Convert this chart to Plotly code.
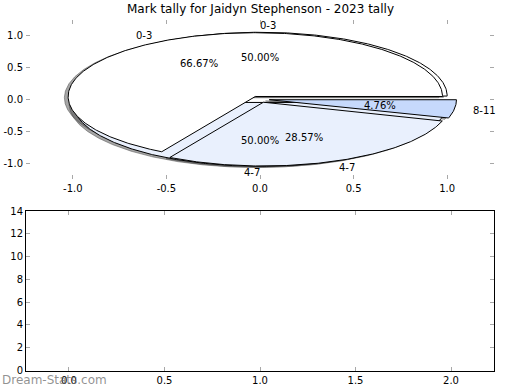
import numpy as np
import plotly.graph_objects as go

# ---------------- data ----------------
title_text = "Mark tally for Jaidyn Stephenson - 2023 tally"
pie_a_labels = ["0-3", "4-7"]            # drawn first (underneath)
pie_a_values = [1, 1]
pie_b_labels = ["0-3", "4-7", "8-11"]    # drawn second (on top)
pie_b_values = [14, 6, 1]
label_colors = {"0-3": "#ffffff", "4-7": "#e9f0fd", "8-11": "#c6d9fc"}
top_ticks = [-1.0, -0.5, 0.0, 0.5, 1.0]
bottom_x_ticks = [0.0, 0.5, 1.0, 1.5, 2.0]
bottom_y_ticks = [0, 2, 4, 6, 8, 10, 12, 14]
watermark = "Dream-Stats.com"

# ---------------- style ----------------
W, H = 520, 390
EXPLODE = 0.05
SHADOW_DX, SHADOW_DY = -0.02, -0.02
FONT = "DejaVu Sans"
TICKCOL = "#a8a8a8"


def make_wedges(labels, values):
    total = float(sum(values))
    out = []
    t = 0.0
    for lab, v in zip(labels, values):
        frac = v / total
        t1, t2 = t, t + frac
        tm = np.pi * (t1 + t2)
        cx, cy = EXPLODE * np.cos(tm), EXPLODE * np.sin(tm)
        th = np.linspace(2 * np.pi * t1, 2 * np.pi * t2, max(int(720 * frac), 4) + 1)
        xs = np.concatenate([[cx], cx + np.cos(th), [cx]])
        ys = np.concatenate([[cy], cy + np.sin(th), [cy]])
        out.append(dict(label=lab, frac=frac, tm=tm, cx=cx, cy=cy, xs=xs, ys=ys))
        t = t2
    return out


pie_a = make_wedges(pie_a_labels, pie_a_values)
pie_b = make_wedges(pie_b_labels, pie_b_values)

fig = go.Figure()

# shadows (drawn below all wedges)
for w in pie_a + pie_b:
    fig.add_trace(go.Scatter(
        x=w["xs"] + SHADOW_DX, y=w["ys"] + SHADOW_DY, mode="lines",
        fill="toself", fillcolor="rgba(77,77,77,0.5)",
        line=dict(color="rgba(77,77,77,0.5)", width=1),
        hoverinfo="skip", showlegend=False, xaxis="x", yaxis="y"))

# wedges
for w in pie_a + pie_b:
    fig.add_trace(go.Scatter(
        x=w["xs"], y=w["ys"], mode="lines", fill="toself",
        fillcolor=label_colors[w["label"]],
        line=dict(color="black", width=1),
        hoverinfo="skip", showlegend=False, xaxis="x", yaxis="y"))

# empty lower axes
fig.add_trace(go.Scatter(x=[], y=[], xaxis="x2", yaxis="y2", showlegend=False))

annotations = []
for w in pie_a + pie_b:
    lx = w["cx"] + 1.1 * np.cos(w["tm"])
    ly = w["cy"] + 1.1 * np.sin(w["tm"])
    right_side = lx > 0
    annotations.append(dict(
        x=lx, y=ly, xref="x", yref="y", text=w["label"], showarrow=False,
        xanchor="left" if right_side else "right", yanchor="middle",
        xshift=-2 if right_side else 2,
        font=dict(family=FONT, size=10, color="black")))
    px = w["cx"] + 0.6 * np.cos(w["tm"])
    py = w["cy"] + 0.6 * np.sin(w["tm"])
    annotations.append(dict(
        x=px, y=py, xref="x", yref="y", text="%1.2f%%" % (w["frac"] * 100),
        showarrow=False, xanchor="center", yanchor="middle",
        font=dict(family=FONT, size=10, color="black")))

annotations.append(dict(
    x=0.5, y=1 - 9 / H, xref="paper", yref="paper", text=title_text,
    showarrow=False, xanchor="center", yanchor="middle",
    font=dict(family=FONT, size=12, color="black")))
annotations.append(dict(
    x=0, y=1 - 380 / H, xref="paper", yref="paper", text=watermark,
    showarrow=False, xanchor="left", yanchor="middle",
    font=dict(family=FONT, size=12, color="rgba(110,110,110,0.75)")))

xdom = [26 / W, 494 / W]
common = dict(showgrid=False, zeroline=False, ticks="inside", ticklen=4,
              tickwidth=1, tickcolor=TICKCOL, mirror="ticks", automargin=False,
              tickfont=dict(family=FONT, size=10, color="black"))

fig.update_layout(
    width=W, height=H, autosize=False,
    margin=dict(l=0, r=0, t=0, b=0, autoexpand=False),
    paper_bgcolor="white", plot_bgcolor="white",
    showlegend=False,
    annotations=annotations,
    xaxis=dict(domain=xdom, anchor="y", range=[-1.25, 1.25],
               tickvals=top_ticks, ticktext=["%.1f" % v for v in top_ticks],
               showline=True, linecolor="rgba(0,0,0,0)", **common),
    yaxis=dict(domain=[1 - 179 / H, 1 - 19.5 / H], anchor="x", range=[-1.25, 1.25],
               tickvals=top_ticks, ticktext=["%.1f" % v for v in top_ticks],
               showline=True, linecolor="rgba(0,0,0,0)", **common),
    xaxis2=dict(domain=xdom, anchor="y2", range=[-0.225, 2.225],
                tickvals=bottom_x_ticks, ticktext=["%.1f" % v for v in bottom_x_ticks],
                showline=True, linecolor="black", linewidth=1, **common),
    yaxis2=dict(domain=[1 - 370.5 / H, 1 - 211 / H], anchor="x2", range=[0, 14],
                tickvals=bottom_y_ticks, ticktext=[str(v) for v in bottom_y_ticks],
                showline=True, linecolor="black", linewidth=1, **common),
)

fig.write_html("out.html", config={"displayModeBar": False},
               post_script="document.body.style.margin='0';")
